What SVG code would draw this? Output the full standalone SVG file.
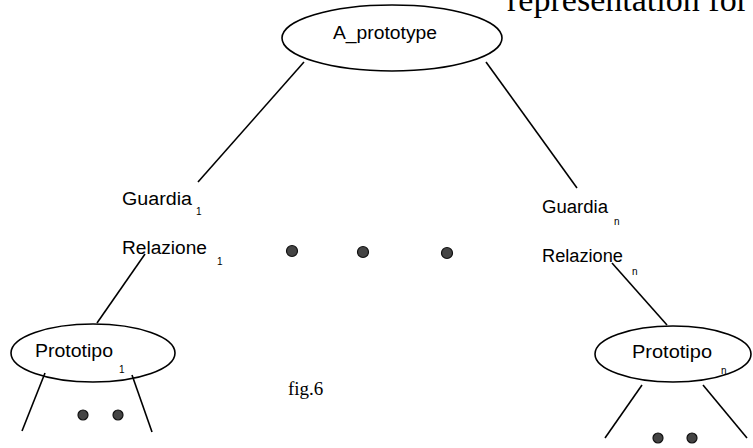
<svg xmlns="http://www.w3.org/2000/svg" width="753" height="448" viewBox="0 0 753 448">
  <style>
    .node { fill: none; stroke: #000; stroke-width: 1.6; }
    .edge { stroke: #000; stroke-width: 1.6; fill: none; }
    .lbl { font-family: "Liberation Sans Narrow", "Liberation Sans", Arial, sans-serif; font-size: 18px; fill: #000; }
    .sub { font-family: "Liberation Sans Narrow", "Liberation Sans", Arial, sans-serif; font-size: 10px; fill: #000; }
    .serif { font-family: "Liberation Serif", "Times New Roman", serif; fill: #000; }
    .dot { fill: #444; stroke: #111; stroke-width: 1.2; }
  </style>

  <rect width="753" height="448" fill="#fff"/>

  <!-- running text line of the page, cut at the top edge -->
  <text class="serif" x="507" y="11" font-size="34" textLength="241" lengthAdjust="spacingAndGlyphs">representation for</text>

  <!-- connectors -->
  <g id="connectors">
    <line class="edge" x1="304" y1="62" x2="198" y2="182"/>
    <line class="edge" x1="486" y1="62" x2="577" y2="188"/>
    <line class="edge" x1="145" y1="254" x2="97" y2="323"/>
    <line class="edge" x1="612" y1="263" x2="667" y2="325"/>
    <line class="edge" x1="45" y1="373" x2="22" y2="431"/>
    <line class="edge" x1="132" y1="375" x2="152" y2="432"/>
    <line class="edge" x1="642" y1="385" x2="605" y2="438"/>
    <line class="edge" x1="703" y1="385" x2="747" y2="438"/>
  </g>

  <!-- root node -->
  <g id="a-prototype">
    <ellipse class="node" cx="392" cy="38" rx="110" ry="33"/>
    <text class="lbl" x="333" y="39" textLength="104" lengthAdjust="spacingAndGlyphs">A_prototype</text>
  </g>

  <!-- branch labels -->
  <g id="guardia-1">
    <text class="lbl" x="122" y="205" textLength="70" lengthAdjust="spacingAndGlyphs">Guardia</text>
    <text class="sub" x="196" y="215">1</text>
  </g>
  <g id="relazione-1">
    <text class="lbl" x="122" y="254" textLength="85" lengthAdjust="spacingAndGlyphs">Relazione</text>
    <text class="sub" x="217" y="265">1</text>
  </g>
  <g id="guardia-n">
    <text class="lbl" x="542" y="213" textLength="66" lengthAdjust="spacingAndGlyphs">Guardia</text>
    <text class="sub" x="614" y="225">n</text>
  </g>
  <g id="relazione-n">
    <text class="lbl" x="542" y="262" textLength="81" lengthAdjust="spacingAndGlyphs">Relazione</text>
    <text class="sub" x="632" y="275">n</text>
  </g>

  <!-- ellipsis between branches -->
  <g id="branch-dots">
    <circle class="dot" cx="292" cy="251" r="5.5"/>
    <circle class="dot" cx="363" cy="252" r="5.5"/>
    <circle class="dot" cx="447" cy="253" r="5.5"/>
  </g>

  <!-- child nodes -->
  <g id="prototipo-1">
    <ellipse class="node" cx="93" cy="353" rx="82" ry="29"/>
    <text class="lbl" x="35" y="357" textLength="78" lengthAdjust="spacingAndGlyphs">Prototipo</text>
    <text class="sub" x="119" y="373">1</text>
  </g>
  <g id="prototipo-n">
    <ellipse class="node" cx="673" cy="354" rx="78" ry="28"/>
    <text class="lbl" x="632" y="358" textLength="80" lengthAdjust="spacingAndGlyphs">Prototipo</text>
    <text class="sub" x="721" y="374">n</text>
  </g>

  <!-- ellipsis under the child nodes -->
  <g id="child-dots">
    <circle class="dot" cx="83" cy="415" r="5"/>
    <circle class="dot" cx="118" cy="415" r="5"/>
    <circle class="dot" cx="658" cy="438" r="5"/>
    <circle class="dot" cx="692" cy="438" r="5"/>
  </g>

  <!-- caption -->
  <text class="serif" x="288" y="395" font-size="19">fig.6</text>
</svg>
